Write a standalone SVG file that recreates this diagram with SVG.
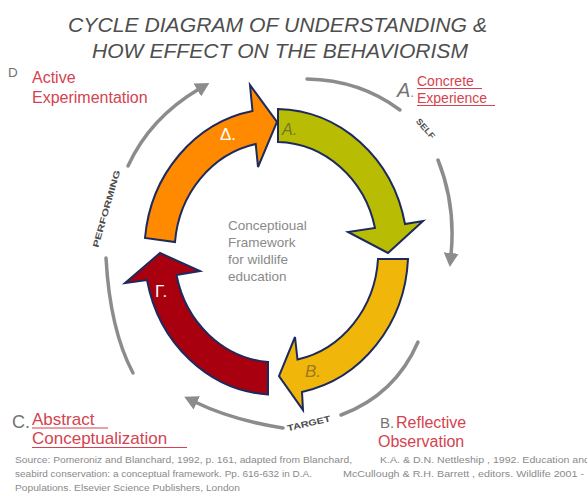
<svg xmlns="http://www.w3.org/2000/svg" width="587" height="493" viewBox="0 0 587 493">
  <style>
    .title { font-family: "Liberation Sans", Arial, sans-serif; font-style: italic; font-size: 21px; fill: #4e4e4e; }
    .lbl { font-family: "Liberation Sans", Arial, sans-serif; fill: #d4434f; }
    .key { font-family: "Liberation Sans", Arial, sans-serif; fill: #747474; }
    .ring { font-family: "Liberation Sans", Arial, sans-serif; font-weight: bold; font-size: 8.5px; fill: #4a4a4a; }
    .center { font-family: "Liberation Sans", Arial, sans-serif; font-size: 13.5px; fill: #8a8a8a; }
    .src { font-family: "Liberation Sans", Arial, sans-serif; font-size: 8.5px; fill: #8a8a8a; }
    .band { stroke: #1c2a5e; stroke-width: 2; stroke-linejoin: miter; }
    .gray { fill: none; stroke: #8c8c8c; stroke-width: 3.5; stroke-linecap: round; }
    .ul { stroke: #d4434f; stroke-width: 1.2; }
  </style>
  <defs>
    <marker id="ah" markerWidth="15" markerHeight="15" refX="2" refY="7.5" orient="auto" markerUnits="userSpaceOnUse">
      <path d="M0,0 L14,7.5 L0,15 Z" fill="#8c8c8c"/>
    </marker>
  </defs>

  <rect width="587" height="493" fill="#ffffff"/>

  <!-- heading -->
  <g id="title" xml:space="preserve">
    <text class="title" x="68" y="32" textLength="419" lengthAdjust="spacingAndGlyphs">CYCLE  DIAGRAM OF UNDERSTANDING &amp;</text>
    <text class="title" x="92" y="58" textLength="376" lengthAdjust="spacingAndGlyphs">HOW EFFECT ON THE  BEHAVIORISM</text>
  </g>

  <!-- outer grey cycle -->
  <g id="connectors">
    <path class="gray" d="M128,166 Q150,118 199,89" marker-end="url(#ah)"/>
    <path class="gray" d="M307,79 Q360,80 400,110"/>
    <path class="gray" d="M438,160 Q456,205 451,255" marker-end="url(#ah)"/>
    <path class="gray" d="M418,342 Q395,395 341,415"/>
    <path class="gray" d="M283,428 Q232,420 195,402" marker-end="url(#ah)"/>
    <path class="gray" d="M106,258 Q110,330 133,373"/>
    <text class="ring" transform="translate(425,129) rotate(49)" text-anchor="middle" dominant-baseline="middle" textLength="24" lengthAdjust="spacingAndGlyphs">SELF</text>
    <text class="ring" transform="translate(107,209) rotate(-74)" text-anchor="middle" dominant-baseline="middle" textLength="80" lengthAdjust="spacingAndGlyphs">PERFORMING</text>
    <text class="ring" transform="translate(309,424) rotate(-13)" text-anchor="middle" dominant-baseline="middle" textLength="44" lengthAdjust="spacingAndGlyphs">TARGET</text>
  </g>

  <!-- stage arrows -->
  <g id="stage-d">
    <path class="band" fill="#ff8a00" d="M145,238 A132,143 0 0,1 252.5,111 L250,85 L277,122 L258,167 L255.7,144 A102,110 0 0,0 175,242 Z"/>
    <text x="220" y="140" font-family="Liberation Sans, Arial, sans-serif" font-size="17" fill="#ffffff">Δ.</text>
  </g>
  <g id="stage-a">
    <path class="band" fill="#b8bc02" d="M278,109 A132,143 0 0,1 405,224 L423,221 L388,253 L348,232 L375,228 A102,110 0 0,0 278,142 Z"/>
    <text x="282" y="135" font-family="Liberation Sans, Arial, sans-serif" font-size="16" font-style="italic" fill="#76762a">A.</text>
  </g>
  <g id="stage-b">
    <path class="band" fill="#f0b60a" d="M408,259 A132,143 0 0,1 302,392 L303,410 L279,376 L295,337 L297.5,359.5 A102,110 0 0,0 378,259 Z"/>
    <text x="305" y="377" font-family="Liberation Sans, Arial, sans-serif" font-size="17" font-style="italic" fill="#9a7a22">B.</text>
  </g>
  <g id="stage-c">
    <path class="band" fill="#a8000f" d="M268,394.5 A132,143 0 0,1 147,280 L125,283 L160,253 L200,271 L176.5,275 A102,110 0 0,0 268,362 Z"/>
    <text x="155" y="297" font-family="Liberation Sans, Arial, sans-serif" font-size="17" fill="#ffffff">Γ.</text>
  </g>

  <!-- centre caption -->
  <g id="centre">
    <text class="center" x="228" y="230">Conceptioual</text>
    <text class="center" x="228" y="247">Framework</text>
    <text class="center" x="228" y="264">for wildlife</text>
    <text class="center" x="228" y="281">education</text>
  </g>

  <!-- stage names -->
  <g id="label-d">
    <text class="key" x="8" y="77" font-size="13.5">D</text>
    <text class="lbl" x="32" y="83" font-size="16">Active</text>
    <text class="lbl" x="32" y="103" font-size="16">Experimentation</text>
  </g>
  <g id="label-a">
    <text class="key" x="397" y="97" font-size="20" font-style="italic">A</text>
    <text class="key" x="411" y="97" font-size="12" font-style="italic">.</text>
    <text class="lbl" x="417" y="86" font-size="14">Concrete</text>
    <line class="ul" x1="417" y1="88.5" x2="482" y2="88.5"/>
    <text class="lbl" x="417" y="103" font-size="14">Experience</text>
    <line class="ul" x1="417" y1="105.5" x2="495" y2="105.5"/>
  </g>
  <g id="label-b">
    <text class="key" x="380" y="428" font-size="15">B.</text>
    <text class="lbl" x="396" y="428" font-size="16">Reflective</text>
    <text class="lbl" x="378" y="447" font-size="16">Observation</text>
  </g>
  <g id="label-c">
    <text class="key" x="12" y="428" font-size="18">C.</text>
    <text class="lbl" x="32" y="425" font-size="17">Abstract</text>
    <line class="ul" x1="32" y1="428" x2="108" y2="428"/>
    <text class="lbl" x="32" y="444" font-size="17">Conceptualization</text>
    <line class="ul" x1="32" y1="447.5" x2="187" y2="447.5"/>
  </g>

  <!-- reference note -->
  <g id="source" xml:space="preserve">
    <text class="src" x="15" y="463" textLength="337" lengthAdjust="spacingAndGlyphs">Source:  Pomeroniz  and Blanchard, 1992, p. 161, adapted from Blanchard,</text>
    <text class="src" x="380" y="463" textLength="210" lengthAdjust="spacingAndGlyphs">K.A.  &amp; D.N.  Nettleship  , 1992. Education and</text>
    <text class="src" x="15" y="477" textLength="297" lengthAdjust="spacingAndGlyphs">seabird conservation: a conceptual framework. Pp. 616-632 in D.A.</text>
    <text class="src" x="343" y="477" textLength="241" lengthAdjust="spacingAndGlyphs">McCullough  &amp; R.H. Barrett  , editors. Wildlife 2001 -</text>
    <text class="src" x="15" y="491" textLength="225" lengthAdjust="spacingAndGlyphs">Populations.    Elsevier  Science Publishers, London</text>
  </g>
</svg>
